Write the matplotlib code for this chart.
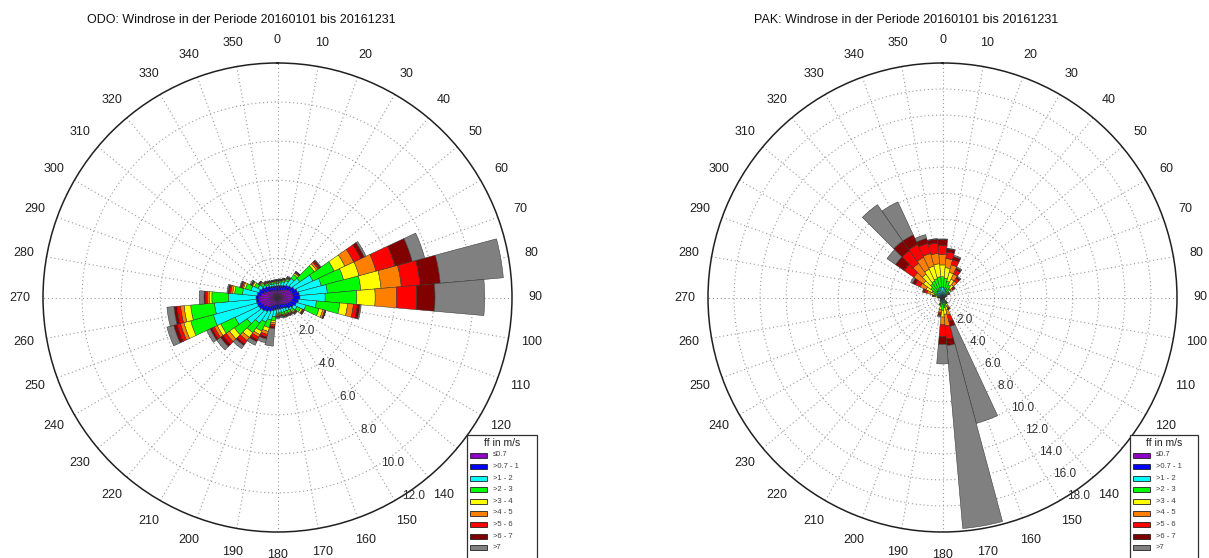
import numpy as np
import matplotlib.pyplot as plt
from matplotlib.patches import Rectangle

plt.rcParams['font.family'] = ['Liberation Sans', 'DejaVu Sans']

# wind direction sectors (deg), 10 deg bins
directions = np.arange(0, 360, 10)

# speed classes and colours
classes = ['\u22640.7', '>0.7 - 1', '>1 - 2', '>2 - 3', '>3 - 4', '>4 - 5', '>5 - 6', '>6 - 7', '>7']
colors = ['#8c00c8', '#0000ff', '#00ffff', '#00ff00', '#ffff00', '#ff8000', '#ff0000', '#800000', '#808080']

# ODO: cumulative frequency (%) per sector, one row per speed class
odo_cum = np.array([
    # 0    10    20    30    40    50    60    70    80    90   100   110   120   130   140   150   160   170   180   190   200   210   220   230   240   250   260   270   280   290   300   310   320   330   340   350
    [0.35, 0.37, 0.40, 0.45, 0.52, 0.60, 0.70, 0.76, 0.80, 0.80, 0.75, 0.68, 0.60, 0.52, 0.45, 0.40, 0.37, 0.35, 0.35, 0.38, 0.42, 0.50, 0.60, 0.70, 0.80, 0.88, 0.93, 0.95, 0.85, 0.72, 0.60, 0.50, 0.43, 0.40, 0.37, 0.35],
    [0.60, 0.62, 0.65, 0.70, 0.78, 0.85, 0.95, 1.05, 1.12, 1.15, 1.08, 1.00, 0.90, 0.80, 0.70, 0.62, 0.60, 0.60, 0.60, 0.65, 0.72, 0.80, 0.90, 0.98, 1.05, 1.08, 1.10, 1.10, 1.05, 0.98, 0.90, 0.80, 0.72, 0.65, 0.62, 0.60],
    [0.72, 0.76, 0.84, 0.96, 1.20, 1.40, 2.00, 2.32, 2.56, 2.44, 2.00, 1.50, 1.10, 0.90, 0.84, 0.80, 0.80, 0.76, 0.80, 1.00, 1.20, 1.40, 1.60, 1.90, 2.40, 3.40, 3.24, 2.50, 1.80, 1.40, 1.10, 0.90, 0.80, 0.76, 0.72, 0.72],
    [0.80, 0.84, 0.92, 1.06, 1.44, 2.30, 3.20, 3.50, 4.28, 4.06, 3.20, 2.20, 1.30, 1.04, 0.96, 0.92, 0.90, 0.84, 0.88, 1.20, 1.60, 1.90, 2.20, 2.70, 3.20, 4.60, 4.46, 3.36, 2.20, 1.70, 1.30, 1.04, 0.90, 0.84, 0.80, 0.80],
    [0.84, 0.88, 0.96, 1.10, 1.52, 2.44, 3.80, 4.32, 5.32, 5.00, 3.60, 2.40, 1.40, 1.10, 1.00, 0.96, 0.94, 0.88, 0.92, 1.30, 1.80, 2.10, 2.50, 3.00, 3.40, 4.96, 4.80, 3.50, 2.30, 1.80, 1.40, 1.10, 0.94, 0.88, 0.84, 0.84],
    [0.86, 0.90, 0.98, 1.12, 1.56, 2.54, 4.30, 5.22, 6.36, 6.10, 3.90, 2.50, 1.44, 1.14, 1.04, 1.00, 0.98, 0.92, 0.96, 1.40, 1.96, 2.24, 2.70, 3.20, 3.56, 5.14, 4.98, 3.60, 2.40, 1.86, 1.44, 1.14, 0.96, 0.90, 0.86, 0.86],
    [0.88, 0.92, 1.00, 1.14, 1.60, 2.62, 4.70, 6.22, 7.32, 7.12, 4.10, 2.54, 1.48, 1.18, 1.08, 1.04, 1.02, 0.96, 1.00, 1.50, 2.10, 2.40, 2.90, 3.40, 3.70, 5.32, 5.16, 3.70, 2.48, 1.92, 1.48, 1.16, 0.98, 0.92, 0.88, 0.88],
    [0.90, 0.94, 1.02, 1.16, 1.62, 2.68, 4.90, 7.14, 8.36, 8.06, 4.24, 2.56, 1.50, 1.20, 1.10, 1.06, 1.04, 0.98, 1.02, 1.60, 2.20, 2.50, 3.00, 3.56, 3.80, 5.50, 5.32, 3.76, 2.54, 1.96, 1.50, 1.18, 1.00, 0.94, 0.90, 0.90],
    [0.92, 0.96, 1.04, 1.20, 1.64, 2.72, 5.00, 7.80, 11.6, 10.6, 4.30, 2.56, 1.52, 1.24, 1.14, 1.10, 1.10, 1.04, 1.10, 2.50, 2.40, 2.70, 3.20, 3.80, 4.00, 5.86, 5.68, 4.00, 2.60, 2.00, 1.56, 1.20, 1.04, 0.96, 0.92, 0.92],
])

# PAK: cumulative frequency (%) per sector, one row per speed class
pak_cum = np.array([
    # 0    10    20    30    40    50    60    70    80    90   100   110   120   130   140   150   160   170   180   190   200   210   220   230   240   250   260   270   280   290   300   310   320   330   340   350
    [0.05, 0.05, 0.05, 0.05, 0.05, 0.04, 0.04, 0.03, 0.03, 0.03, 0.03, 0.03, 0.03, 0.03, 0.03, 0.04, 0.05, 0.05, 0.05, 0.05, 0.04, 0.03, 0.03, 0.03, 0.03, 0.03, 0.03, 0.03, 0.04, 0.04, 0.05, 0.05, 0.05, 0.05, 0.05, 0.05],
    [0.20, 0.20, 0.18, 0.16, 0.14, 0.12, 0.10, 0.08, 0.07, 0.07, 0.07, 0.07, 0.07, 0.08, 0.10, 0.14, 0.15, 0.15, 0.15, 0.14, 0.10, 0.08, 0.07, 0.07, 0.07, 0.07, 0.07, 0.08, 0.10, 0.12, 0.15, 0.15, 0.20, 0.20, 0.20, 0.20],
    [0.80, 0.75, 0.65, 0.55, 0.45, 0.35, 0.22, 0.15, 0.12, 0.10, 0.10, 0.10, 0.10, 0.12, 0.20, 0.35, 0.40, 0.40, 0.50, 0.40, 0.25, 0.15, 0.12, 0.10, 0.10, 0.10, 0.12, 0.15, 0.25, 0.35, 0.45, 0.50, 0.60, 0.60, 0.70, 0.80],
    [1.60, 1.50, 1.30, 1.05, 0.85, 0.60, 0.35, 0.20, 0.15, 0.12, 0.12, 0.12, 0.12, 0.15, 0.30, 0.55, 0.70, 0.80, 1.00, 0.70, 0.35, 0.20, 0.15, 0.12, 0.12, 0.12, 0.15, 0.20, 0.40, 0.65, 0.90, 1.10, 1.30, 1.40, 1.50, 1.60],
    [2.50, 2.30, 2.00, 1.55, 1.20, 0.80, 0.45, 0.24, 0.17, 0.13, 0.13, 0.13, 0.13, 0.17, 0.38, 0.75, 1.00, 1.30, 1.50, 0.95, 0.45, 0.24, 0.17, 0.13, 0.13, 0.13, 0.17, 0.25, 0.55, 0.95, 1.40, 1.80, 2.20, 2.40, 2.50, 2.60],
    [3.30, 3.00, 2.60, 2.00, 1.55, 0.98, 0.52, 0.27, 0.18, 0.14, 0.14, 0.14, 0.14, 0.18, 0.45, 0.88, 1.40, 2.20, 2.10, 1.15, 0.52, 0.26, 0.18, 0.14, 0.14, 0.14, 0.18, 0.30, 0.65, 1.25, 1.90, 2.70, 3.20, 3.40, 3.50, 3.40],
    [4.00, 3.50, 3.00, 2.35, 1.80, 1.10, 0.57, 0.29, 0.19, 0.15, 0.15, 0.15, 0.15, 0.19, 0.50, 0.95, 1.90, 3.20, 3.00, 1.30, 0.56, 0.28, 0.19, 0.15, 0.15, 0.15, 0.19, 0.33, 0.72, 1.45, 2.30, 3.60, 4.40, 4.50, 4.30, 4.20],
    [4.45, 3.75, 3.25, 2.50, 1.92, 1.16, 0.59, 0.30, 0.20, 0.16, 0.16, 0.16, 0.16, 0.20, 0.53, 1.00, 2.30, 3.70, 3.60, 1.40, 0.58, 0.29, 0.20, 0.16, 0.16, 0.16, 0.20, 0.35, 0.76, 1.55, 2.55, 4.40, 5.30, 5.30, 4.70, 4.50],
    [4.50, 3.80, 3.36, 2.60, 2.00, 1.20, 0.60, 0.31, 0.21, 0.17, 0.17, 0.17, 0.17, 0.21, 0.55, 1.05, 10.0, 17.8, 5.10, 1.50, 0.60, 0.30, 0.21, 0.17, 0.17, 0.17, 0.21, 0.37, 0.80, 1.60, 2.70, 5.20, 8.70, 8.10, 5.00, 4.55],
])

stations = [
    ('ODO: Windrose in der Periode 20160101 bis 20161231', odo_cum, 12),
    ('PAK: Windrose in der Periode 20160101 bis 20161231', pak_cum, 18),
]

W, H = 1209, 558
fig = plt.figure(figsize=(W / 100, H / 100), dpi=100)

# circle centres in pixels, radius of outer ring
centres = [(277.5, 297.5), (942.5, 297.5)]
R = 234.5

for (cx, cy), (title, cum, rmax) in zip(centres, stations):
    ax = fig.add_axes([(cx - R) / W, (H - cy - R) / H, 2 * R / W, 2 * R / H], projection='polar')
    ax.set_theta_zero_location('N')
    ax.set_theta_direction(-1)
    theta = np.radians(directions)
    width = np.radians(10)
    bottom = np.zeros(len(directions))
    for k in range(len(classes)):
        ax.bar(theta, cum[k] - bottom, width=width, bottom=bottom, color=colors[k],
               edgecolor='#303030', linewidth=0.35, zorder=3)
        bottom = cum[k].copy()
    ax.set_ylim(0, rmax)
    ax.set_xticks(np.radians(np.arange(0, 360, 10)))
    ax.set_xticklabels([])
    ax.set_yticks(np.arange(2, rmax, 2))
    ax.set_yticklabels([])
    ax.grid(True, linestyle=(0, (1, 2.5)), color='#9a9a9a', linewidth=0.8)
    ax.spines['polar'].set_linewidth(1.1)
    ax.spines['polar'].set_color('#202020')
    ax.tick_params(length=0)
    # direction labels outside the circle
    for d in range(0, 360, 10):
        ax.text(np.radians(d), rmax * 1.1, str(d), ha='center', va='center',
                fontsize=9, color='#202020', clip_on=False)
    # radial labels
    for r in np.arange(2, rmax + 1, 2):
        ax.text(np.radians(148), r, '%.1f' % r, ha='left', va='center',
                fontsize=8.5, color='#303030', zorder=5)
    fig.text((cx - 36) / W, 1 - 20 / H, title, ha='center', va='center', fontsize=9, color='#101010')

# legends drawn in pixel coordinates
lax = fig.add_axes([0, 0, 1, 1])
lax.set_xlim(0, W)
lax.set_ylim(H, 0)
lax.axis('off')
for x0, x1 in [(467, 537), (1130, 1198)]:
    lax.add_patch(Rectangle((x0, 435), x1 - x0, 140, facecolor='white', edgecolor='#303030', linewidth=0.9))
    lax.text((x0 + x1) / 2, 443, 'ff in m/s', ha='center', va='center', fontsize=7.5, color='#202020')
    for k, (lab, c) in enumerate(zip(classes, colors)):
        y = 455 + k * 11.6
        lax.add_patch(Rectangle((x0 + 3, y - 2.5), 17, 5, facecolor=c, edgecolor='#202020', linewidth=0.6))
        lax.text(x0 + 26, y, lab, ha='left', va='center', fontsize=5.5, color='#404040')

fig.savefig('out.png', dpi=100)
